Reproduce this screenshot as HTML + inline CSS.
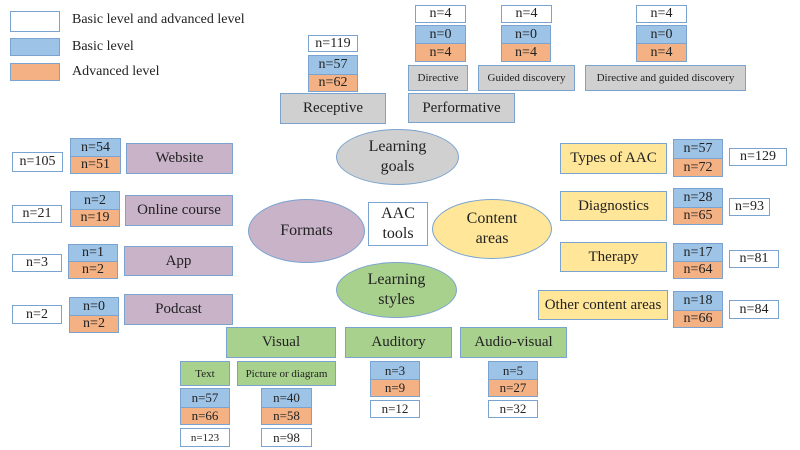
<!DOCTYPE html>
<html><head><meta charset="utf-8"><style>
body{margin:0;width:800px;height:450px;background:#fff;position:relative;overflow:hidden;font-family:"Liberation Serif",serif;color:#222}
.b{position:absolute;box-sizing:border-box;border:1.5px solid #7aa3cf;display:flex;align-items:center;justify-content:center;font-size:14px;white-space:nowrap}
.w{background:#fff}.bl{background:#9dc3e6}.or{background:#f4b183}.g{background:#d0d0d0;font-size:15px}.p{background:#c9b3c9;font-size:15px}.y{background:#ffe699;font-size:15px}.gr{background:#a9d18e;font-size:15px}
.t{position:absolute;font-size:14px}
.e{position:absolute;box-sizing:border-box;border:1.5px solid #7aa3cf;border-radius:50%;display:flex;align-items:center;justify-content:center;text-align:center;font-size:16px;line-height:20px}
</style></head><body>
<div class="b w" style="left:10px;top:11px;width:50px;height:21px"></div>
<div class="b bl" style="left:10px;top:38px;width:50px;height:18px"></div>
<div class="b or" style="left:10px;top:63px;width:50px;height:18px"></div>
<div class="t" style="left:72px;top:12px">Basic level and advanced level</div>
<div class="t" style="left:72px;top:39px">Basic level</div>
<div class="t" style="left:72px;top:64px">Advanced level</div>

<div class="b w" style="left:308px;top:35px;width:50px;height:17px">n=119</div>
<div class="b bl" style="left:308px;top:55px;width:50px;height:20px">n=57</div>
<div class="b or" style="left:308px;top:74px;width:50px;height:18px">n=62</div>
<div class="b g" style="left:280px;top:93px;width:106px;height:31px">Receptive</div>

<div class="b w" style="left:415px;top:5px;width:51px;height:18px">n=4</div>
<div class="b bl" style="left:415px;top:25px;width:51px;height:19px">n=0</div>
<div class="b or" style="left:415px;top:43px;width:51px;height:19px">n=4</div>
<div class="b g" style="left:408px;top:65px;width:60px;height:26px;font-size:11px">Directive</div>
<div class="b g" style="left:408px;top:93px;width:107px;height:30px">Performative</div>

<div class="b w" style="left:501px;top:5px;width:51px;height:18px">n=4</div>
<div class="b bl" style="left:501px;top:25px;width:50px;height:19px">n=0</div>
<div class="b or" style="left:501px;top:43px;width:50px;height:19px">n=4</div>
<div class="b g" style="left:478px;top:65px;width:97px;height:26px;font-size:11px">Guided discovery</div>

<div class="b w" style="left:636px;top:5px;width:51px;height:18px">n=4</div>
<div class="b bl" style="left:636px;top:25px;width:51px;height:19px">n=0</div>
<div class="b or" style="left:636px;top:43px;width:51px;height:19px">n=4</div>
<div class="b g" style="left:585px;top:65px;width:161px;height:26px;font-size:11px">Directive and guided discovery</div>

<div class="e" style="left:336px;top:129px;width:123px;height:56px;background:#d0d0d0">Learning<br>goals</div>
<div class="e" style="left:248px;top:199px;width:117px;height:64px;background:#c9b3c9">Formats</div>
<div class="b w" style="left:368px;top:202px;width:60px;height:44px;font-size:16px;text-align:center;line-height:20px">AAC<br>tools</div>
<div class="e" style="left:432px;top:199px;width:120px;height:60px;background:#ffe699">Content<br>areas</div>
<div class="e" style="left:336px;top:262px;width:121px;height:56px;background:#a9d18e">Learning<br>styles</div>

<div class="b w" style="left:12px;top:152px;width:51px;height:20px">n=105</div>
<div class="b bl" style="left:70px;top:138px;width:51px;height:19px">n=54</div>
<div class="b or" style="left:70px;top:156px;width:51px;height:18px">n=51</div>
<div class="b p" style="left:126px;top:143px;width:107px;height:31px">Website</div>

<div class="b w" style="left:12px;top:205px;width:50px;height:18px">n=21</div>
<div class="b bl" style="left:70px;top:191px;width:50px;height:19px">n=2</div>
<div class="b or" style="left:70px;top:209px;width:50px;height:18px">n=19</div>
<div class="b p" style="left:125px;top:195px;width:108px;height:31px">Online course</div>

<div class="b w" style="left:12px;top:254px;width:50px;height:18px">n=3</div>
<div class="b bl" style="left:68px;top:244px;width:50px;height:18px">n=1</div>
<div class="b or" style="left:68px;top:261px;width:50px;height:18px">n=2</div>
<div class="b p" style="left:124px;top:246px;width:109px;height:30px">App</div>

<div class="b w" style="left:12px;top:305px;width:50px;height:19px">n=2</div>
<div class="b bl" style="left:69px;top:297px;width:50px;height:19px">n=0</div>
<div class="b or" style="left:69px;top:315px;width:50px;height:18px">n=2</div>
<div class="b p" style="left:124px;top:294px;width:109px;height:31px">Podcast</div>

<div class="b y" style="left:560px;top:143px;width:107px;height:31px">Types of AAC</div>
<div class="b bl" style="left:673px;top:139px;width:50px;height:20px">n=57</div>
<div class="b or" style="left:673px;top:158px;width:50px;height:19px">n=72</div>
<div class="b w" style="left:729px;top:148px;width:58px;height:18px">n=129</div>

<div class="b y" style="left:560px;top:191px;width:107px;height:30px">Diagnostics</div>
<div class="b bl" style="left:673px;top:188px;width:50px;height:20px">n=28</div>
<div class="b or" style="left:673px;top:207px;width:50px;height:18px">n=65</div>
<div class="b w" style="left:729px;top:198px;width:41px;height:18px">n=93</div>

<div class="b y" style="left:560px;top:242px;width:107px;height:30px">Therapy</div>
<div class="b bl" style="left:673px;top:243px;width:50px;height:19px">n=17</div>
<div class="b or" style="left:673px;top:261px;width:50px;height:18px">n=64</div>
<div class="b w" style="left:729px;top:250px;width:50px;height:18px">n=81</div>

<div class="b y" style="left:538px;top:290px;width:130px;height:30px">Other content areas</div>
<div class="b bl" style="left:673px;top:291px;width:50px;height:20px">n=18</div>
<div class="b or" style="left:673px;top:310px;width:50px;height:18px">n=66</div>
<div class="b w" style="left:729px;top:300px;width:50px;height:19px">n=84</div>

<div class="b gr" style="left:226px;top:327px;width:110px;height:31px">Visual</div>
<div class="b gr" style="left:345px;top:327px;width:107px;height:31px">Auditory</div>
<div class="b gr" style="left:460px;top:327px;width:107px;height:31px">Audio-visual</div>

<div class="b gr" style="left:180px;top:361px;width:50px;height:25px;font-size:11px">Text</div>
<div class="b gr" style="left:237px;top:361px;width:99px;height:25px;font-size:11px">Picture or diagram</div>
<div class="b bl" style="left:180px;top:388px;width:50px;height:20px;font-size:13px">n=57</div>
<div class="b or" style="left:180px;top:407px;width:50px;height:18px;font-size:13px">n=66</div>
<div class="b w" style="left:180px;top:428px;width:50px;height:19px;font-size:11px">n=123</div>
<div class="b bl" style="left:261px;top:388px;width:51px;height:20px;font-size:13px">n=40</div>
<div class="b or" style="left:261px;top:407px;width:51px;height:18px;font-size:13px">n=58</div>
<div class="b w" style="left:261px;top:428px;width:51px;height:19px;font-size:13px">n=98</div>

<div class="b bl" style="left:370px;top:361px;width:50px;height:19px;font-size:13px">n=3</div>
<div class="b or" style="left:370px;top:379px;width:50px;height:18px;font-size:13px">n=9</div>
<div class="b w" style="left:370px;top:400px;width:50px;height:18px;font-size:13px">n=12</div>
<div class="b bl" style="left:488px;top:361px;width:50px;height:19px;font-size:13px">n=5</div>
<div class="b or" style="left:488px;top:379px;width:50px;height:18px;font-size:13px">n=27</div>
<div class="b w" style="left:488px;top:400px;width:50px;height:18px;font-size:13px">n=32</div>
</body></html>
